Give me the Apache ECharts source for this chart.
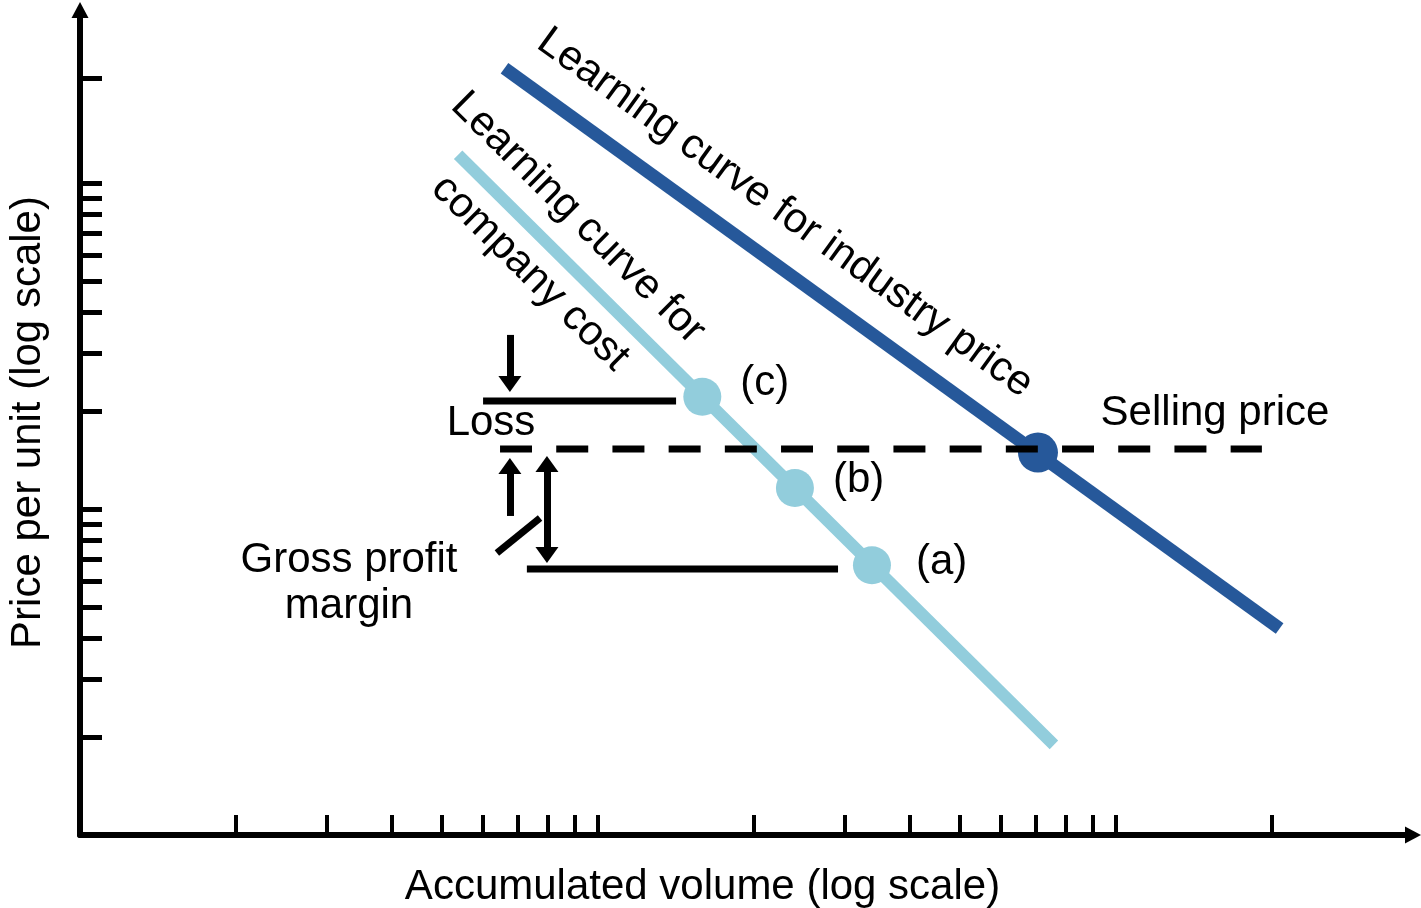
<!DOCTYPE html>
<html>
<head>
<meta charset="utf-8">
<title>Learning curve</title>
<script src="https://cdn.jsdelivr.net/npm/echarts@6/dist/echarts.min.js"></script>
<style>
  html, body { margin: 0; padding: 0; background: #fff; }
  #main { width: 1421px; height: 908px; }
</style>
</head>
<body>
<div id="main"></div>
<script>
// log-scale tick marks (no labels in the picture)
const xTicks = [2, 3, 4, 5, 6, 7, 8, 9, 10, 20, 30, 40, 50, 60, 70, 80, 90, 100, 200]
const yTicks = [2, 3, 4, 5, 6, 7, 8, 9, 10, 20, 30, 40, 50, 60, 70, 80, 90, 100, 210]

// the two learning curves, [volume, price]
const industryPrice = [[6.6, 225], [207, 4.3]]
const companyCost = [[5.37, 122], [75.9, 1.89]]

// points on the company cost curve
const pointNames = ['(c)', '(b)', '(a)']
const costPoints = [[15.9, 22.1], [24.0, 11.6], [33.8, 6.72]]

// where the industry price meets the selling price
const pricePoint = [[70.7, 14.9]]

// selling price (dashed), loss level and gross profit level
const sellingPrice = [[6.47, 15.28], [191.3, 15.28]]
const lossLevel = [[6.0, 21.45], [14.15, 21.45]]
const profitLevel = [[7.29, 6.545], [29.07, 6.545]]

// arrows: [from, to]
const lossArrow = [[6.76, 34.2], [6.76, 24.17]]
const profitArrow = [[6.76, 9.52], [6.76, 13.55]]
const marginArrow = [[7.97, 13.74], [7.97, 7.225]]
const marginPointer = [[6.38, 7.33], [7.73, 9.385]]

const FONT = 'Liberation Sans, Arial, Helvetica, sans-serif'
const DARK = '#26589A'
const LIGHT = '#92CDDC'

var myChart = echarts.init(document.getElementById('main'))

const txt = (text, x, y, rot) => ({
  type: 'text',
  x: x,
  y: y,
  rotation: rot ? rot * Math.PI / 180 : 0,
  silent: true,
  style: {
    text: text,
    x: 0,
    y: 0,
    align: 'center',
    verticalAlign: 'middle',
    font: '42px ' + FONT,
    fill: '#000'
  }
})

const mline = (pair, both) => [
  { coord: pair[0], symbol: both ? 'triangle' : 'none' },
  { coord: pair[1] }
]

const option = {
  animation: false,
  grid: { left: 80, right: 8, top: 10, bottom: 73, outerBoundsMode: 'none', containLabel: false },
  xAxis: {
    type: 'log',
    min: 1,
    max: 374.5,
    name: 'Accumulated volume (log scale)',
    nameLocation: 'middle',
    nameGap: 31,
    nameTextStyle: { fontSize: 42, color: '#000', fontFamily: FONT, padding: [0, 88, 0, 0] },
    axisLine: {
      lineStyle: { color: '#000', width: 6 },
      symbol: ['none', 'triangle'],
      symbolSize: [17, 16]
    },
    axisTick: {
      show: true,
      inside: true,
      length: 20,
      customValues: xTicks,
      lineStyle: { color: '#000', width: 4 }
    },
    axisLabel: { show: false },
    splitLine: { show: false },
    minorTick: { show: false }
  },
  yAxis: {
    type: 'log',
    min: 1,
    max: 339.4,
    name: 'Price per unit (log scale)',
    nameLocation: 'middle',
    nameGap: 31,
    nameTextStyle: { fontSize: 42, color: '#000', fontFamily: FONT },
    axisLine: {
      lineStyle: { color: '#000', width: 6 },
      symbol: ['none', 'triangle'],
      symbolSize: [17, 16]
    },
    axisTick: {
      show: true,
      inside: true,
      length: 22,
      customValues: yTicks,
      lineStyle: { color: '#000', width: 5 }
    },
    axisLabel: { show: false },
    splitLine: { show: false }
  },
  series: [
    {
      name: 'company cost',
      type: 'line',
      data: companyCost,
      symbol: 'none',
      silent: true,
      lineStyle: { color: LIGHT, width: 12 },
      z: 2
    },
    {
      name: 'industry price',
      type: 'line',
      data: industryPrice,
      symbol: 'none',
      silent: true,
      lineStyle: { color: DARK, width: 13 },
      z: 2
    },
    {
      name: 'cost points',
      type: 'scatter',
      data: costPoints.map((p, i) => ({
        value: p,
        label: { formatter: pointNames[i], offset: [[0, -13], [0, -8], [6, -3]][i] }
      })),
      symbolSize: 38,
      itemStyle: { color: LIGHT, opacity: 1 },
      label: {
        show: true,
        position: 'right',
        distance: 19,
        fontSize: 42,
        fontFamily: FONT,
        color: '#000'
      },
      silent: true,
      z: 3
    },
    {
      name: 'price point',
      type: 'scatter',
      data: pricePoint,
      symbolSize: 40,
      itemStyle: { color: DARK, opacity: 1 },
      silent: true,
      z: 3
    },
    {
      name: 'selling price',
      type: 'line',
      data: sellingPrice,
      symbol: 'none',
      silent: true,
      lineStyle: { color: '#000', width: 7, type: [32, 24.2] },
      z: 4
    },
    {
      name: 'loss level',
      type: 'line',
      data: lossLevel,
      symbol: 'none',
      silent: true,
      lineStyle: { color: '#000', width: 7 },
      z: 4
    },
    {
      name: 'profit level',
      type: 'line',
      data: profitLevel,
      symbol: 'none',
      silent: true,
      lineStyle: { color: '#000', width: 7 },
      z: 4
    },
    {
      name: 'arrows',
      type: 'line',
      data: [],
      silent: true,
      z: 4,
      markLine: {
        silent: true,
        animation: false,
        symbol: ['none', 'triangle'],
        symbolSize: [23, 16],
        label: { show: false },
        lineStyle: { color: '#000', width: 7, type: 'solid' },
        itemStyle: { color: '#000' },
        emphasis: { disabled: true },
        data: [
          mline(lossArrow),
          mline(profitArrow),
          mline(marginArrow, true),
          [
            { coord: marginPointer[0], symbol: 'none' },
            { coord: marginPointer[1], symbol: 'none' }
          ]
        ]
      }
    }
  ],
  graphic: [
    txt('Selling price', 1215, 413),
    txt('Loss', 491, 423),
    txt('Gross profit', 349, 560),
    txt('margin', 349, 606),
    txt('Learning curve for industry price', 785, 213, -35.85),
    txt('Learning curve for', 578, 218, -44.66),
    txt('company cost', 530, 273, -44.66)
  ]
}
myChart.setOption(option)
</script>
</body>
</html>
